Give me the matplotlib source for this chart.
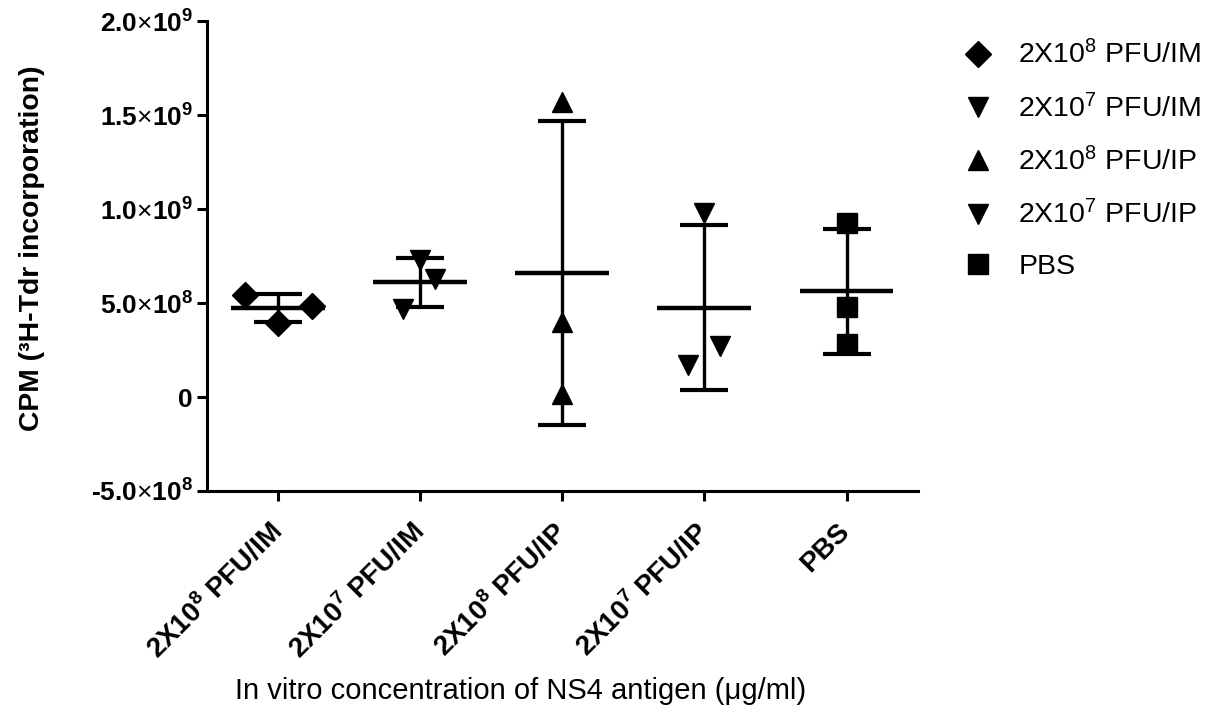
import numpy as np
import matplotlib.pyplot as plt
import matplotlib.transforms as mtransforms

plt.rcParams['font.family'] = ['Liberation Sans', 'DejaVu Sans']
plt.rcParams['mathtext.fontset'] = 'custom'
plt.rcParams['mathtext.rm'] = 'Liberation Sans'
plt.rcParams['mathtext.bf'] = 'Liberation Sans:bold'
plt.rcParams['mathtext.it'] = 'Liberation Sans:italic'

# --------------------------------------------
# data (CPM values, 3 mice per group)
groups = ['2X10$^{8}$ PFU/IM', '2X10$^{7}$ PFU/IM', '2X10$^{8}$ PFU/IP',
          '2X10$^{7}$ PFU/IP', 'PBS']
tick_groups = [r'2X10$^{\mathbf{8}}$ PFU/IM', r'2X10$^{\mathbf{7}}$ PFU/IM',
               r'2X10$^{\mathbf{8}}$ PFU/IP', r'2X10$^{\mathbf{7}}$ PFU/IP', 'PBS']
im_2e8 = [5.41e8, 3.94e8, 4.82e8]
im_2e7 = [4.70e8, 7.31e8, 6.29e8]
ip_2e8 = [1.569e9, 3.97e8, 0.14e8]
ip_2e7 = [1.72e8, 9.79e8, 2.73e8]
pbs = [9.26e8, 4.80e8, 2.80e8]
values = [im_2e8, im_2e7, ip_2e8, ip_2e7, pbs]
markers = ['D', 'v', '^', 'v', 's']
msizes = [13, 15, 15, 15, 14]

yticks = [-5e8, 0, 5e8, 1e9, 1.5e9, 2e9]
ytick_labels = [r'-$\mathbf{5.0}\mathrm{×}\mathbf{10^{8}}$', '0',
                r'$\mathbf{5.0}\mathrm{×}\mathbf{10^{8}}$', r'$\mathbf{1.0}\mathrm{×}\mathbf{10^{9}}$',
                r'$\mathbf{1.5}\mathrm{×}\mathbf{10^{9}}$', r'$\mathbf{2.0}\mathrm{×}\mathbf{10^{9}}$']

# scatter offsets (jitter) so the points do not overlap
jitter = [[-0.23, 0.0, 0.237], [-0.118, 0.0, 0.105], [0.0, 0.0, 0.0],
          [-0.113, 0.0, 0.113], [0.0, 0.0, 0.0]]

# --------------------------------------------
fig = plt.figure(figsize=(12.17, 7.12), dpi=100)
ax = fig.add_axes([0.170, 0.3104, 0.584, 0.660])

for i, v in enumerate(values):
    v = np.array(v)
    m = v.mean()
    sd = v.std(ddof=1)
    ax.hlines(m, i - 0.33, i + 0.33, color='black', lw=3.2, zorder=2)
    ax.errorbar(i, m, yerr=sd, fmt='none', ecolor='black', elinewidth=2.4,
                capsize=17, capthick=3.0, zorder=2)
    xs = i + np.array(jitter[i])
    ax.plot(xs, v, linestyle='none', marker=markers[i], markersize=msizes[i],
            color='black', label=groups[i], zorder=3)

ax.set_xlim(-0.5, 4.5)
ax.set_ylim(-5e8, 2e9)
ax.set_yticks(yticks, ytick_labels, fontsize=19, fontweight='bold')
ax.set_xticks(range(len(groups)), [''] * len(groups))

# rotated category labels, drawn as text so they can be nudged
trans = mtransforms.blended_transform_factory(ax.transData, ax.transAxes)
trans = trans + mtransforms.ScaledTranslation(-0.10, -0.27, fig.dpi_scale_trans)
for i, lab in enumerate(tick_groups):
    ax.text(i, 0, lab, transform=trans, rotation=45, ha='right', va='top',
            rotation_mode='anchor', fontsize=20, fontweight='bold')

for s in ['top', 'right']:
    ax.spines[s].set_visible(False)
for s in ['left', 'bottom']:
    ax.spines[s].set_linewidth(2.2)
ax.tick_params(axis='both', width=2.2, length=7)
ax.tick_params(axis='y', pad=3)

ax.set_ylabel('CPM (³H-Tdr incorporation)', fontsize=20.4, fontweight='bold')
ax.yaxis.set_label_coords(-0.228, 0.517)
ax.set_xlabel('In vitro concentration of NS4 antigen (μg/ml)', fontsize=21)
ax.xaxis.set_label_coords(0.4416, -0.396)

ax.legend(loc='upper left', bbox_to_anchor=(0.7806, 0.9593), bbox_transform=fig.transFigure,
          frameon=False, fontsize=20.5, labelspacing=0.85, handletextpad=0.8,
          handlelength=1.2, borderaxespad=0)

plt.savefig('out.png', dpi=100)
